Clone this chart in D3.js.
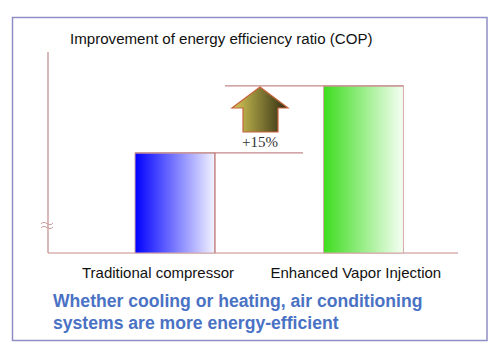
<!DOCTYPE html>
<html><head><meta charset="utf-8">
<script src="https://cdn.jsdelivr.net/npm/d3@7"></script>
<style>html,body{margin:0;padding:0;background:#fff;}svg{display:block;}</style>
</head><body>
<script>
const categories = ["Traditional compressor", "Enhanced Vapor Injection"];
const values = [100, 115];
const improvementLabel = "+15%";
const title = "Improvement of energy efficiency ratio (COP)";
const captionLines = ["Whether cooling or heating, air conditioning", "systems are more energy-efficient"];

const W = 500, H = 358;
const svg = d3.select("body").append("svg").attr("width", W).attr("height", H);
const defs = svg.append("defs");
function grad(id, c0, c1) {
  const g = defs.append("linearGradient").attr("id", id).attr("x1", "0%").attr("x2", "100%").attr("y1", "0%").attr("y2", "0%");
  g.append("stop").attr("offset", "0%").attr("stop-color", c0);
  g.append("stop").attr("offset", "100%").attr("stop-color", c1);
}
grad("g0", "#0000ff", "#f4f4ff");
grad("g1", "#3ddc1e", "#f6fff4");
grad("ga", "#d8cc58", "#2e2a10");

// frame
svg.append("rect").attr("x", 12.5).attr("y", 17.5).attr("width", 474.5).attr("height", 323)
  .attr("fill", "none").attr("stroke", "#8e8ec6").attr("stroke-width", 1.5);

const x = d3.scaleBand().domain(categories).range([59.6, 478.8]).paddingInner(0.576).paddingOuter(0.4);
const y = d3.scaleLinear().domain([77.6, 122.6]).range([253, 52]);
const axisX = 48, axisRight = 458;
const lineColor = "#c48a8a";

// y axis line
svg.append("line").attr("x1", axisX).attr("x2", axisX).attr("y1", y.range()[1]).attr("y2", y.range()[0])
  .attr("stroke", lineColor).attr("stroke-width", 1.2);
// baseline
svg.append("line").attr("x1", axisX).attr("x2", axisRight).attr("y1", y.range()[0]).attr("y2", y.range()[0])
  .attr("stroke", lineColor).attr("stroke-width", 1.2);

// bars
svg.selectAll("rect.bar").data(categories).enter().append("rect").attr("class", "bar")
  .attr("x", d => x(d)).attr("width", x.bandwidth())
  .attr("y", (d, i) => y(values[i])).attr("height", (d, i) => y.range()[0] - y(values[i]))
  .attr("fill", (d, i) => `url(#g${i})`).attr("stroke", "#d4a8a8").attr("stroke-width", 1);

// helper lines
const c0 = categories[0], c1 = categories[1];
svg.append("line").attr("x1", x(c0)).attr("x2", 303).attr("y1", y(values[0])).attr("y2", y(values[0]))
  .attr("stroke", lineColor).attr("stroke-width", 1.2);
svg.append("line").attr("x1", x(c0) + x.bandwidth()).attr("x2", x(c0) + x.bandwidth()).attr("y1", y(values[0])).attr("y2", y.range()[0])
  .attr("stroke", "#b87070").attr("stroke-width", 1);
svg.append("line").attr("x1", 225).attr("x2", x(c1) + x.bandwidth()).attr("y1", y(values[1])).attr("y2", y(values[1]))
  .attr("stroke", lineColor).attr("stroke-width", 1.2);

// arrow
const ax = 260, aTop = y(values[1]) + 1, aHeadBase = 108, aBottom = 132;
const arrowPath = `M${ax},${aTop} L${ax + 28},${aHeadBase} L${ax + 18},${aHeadBase} L${ax + 18},${aBottom} L${ax - 17},${aBottom} L${ax - 17},${aHeadBase} L${ax - 28},${aHeadBase} Z`;
svg.append("path").attr("d", arrowPath).attr("fill", "url(#ga)").attr("stroke", "#c8643c").attr("stroke-width", 1.2);
svg.append("text").attr("x", ax).attr("y", 146.5).attr("text-anchor", "middle")
  .attr("font-family", "Liberation Serif, serif").attr("font-size", 15).attr("fill", "#333").text(improvementLabel);

// axis break
const by = 225;
[-2, 2].forEach(o => {
  svg.append("path").attr("d", `M${axisX - 7},${by + o + 1} C${axisX - 3},${by + o - 4} ${axisX + 1},${by + o + 5} ${axisX + 5},${by + o}`)
    .attr("fill", "none").attr("stroke", "#c89a9a").attr("stroke-width", 1);
});

// title
svg.append("text").attr("x", 70).attr("y", 44).attr("font-family", "Liberation Sans, Arial, sans-serif")
  .attr("font-size", 15.1).attr("fill", "#111").text(title);

// category labels
svg.selectAll("text.cat").data(categories).enter().append("text").attr("class", "cat")
  .attr("x", d => x(d) - 53).attr("y", 277.5)
  .attr("font-family", "Liberation Sans, Arial, sans-serif").attr("font-size", 15).attr("fill", "#111").text(d => d);

// caption
svg.selectAll("text.cap").data(captionLines).enter().append("text").attr("class", "cap")
  .attr("x", 53).attr("y", (d, i) => 306.5 + i * 22)
  .attr("font-family", "Liberation Sans, Arial, sans-serif").attr("font-size", 17.6).attr("font-weight", "bold")
  .attr("fill", "#4a72c4").text(d => d);
</script>
</body></html>
